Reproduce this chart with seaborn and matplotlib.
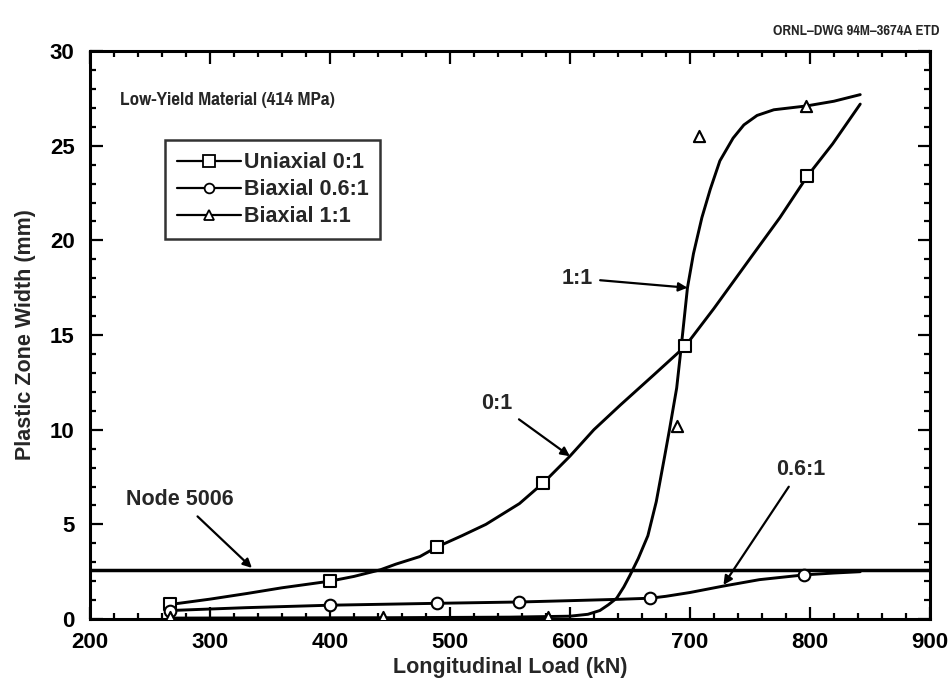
import numpy as np
import pandas as pd
import matplotlib
matplotlib.use("Agg")
import matplotlib.pyplot as plt
from matplotlib import font_manager as fm
from matplotlib.lines import Line2D
from matplotlib.ticker import MultipleLocator
import seaborn as sns

# ---- data ----
# fitted curves (kN, mm)
uni_curve_x = [267, 300, 331, 360, 400, 420, 442, 455, 475, 489, 510, 530, 558, 578, 600, 620, 642, 670, 696, 720, 752, 775, 798, 819, 842]
uni_curve_y = [0.77, 1.05, 1.35, 1.65, 2.0, 2.25, 2.6, 2.9, 3.3, 3.8, 4.4, 5.0, 6.1, 7.2, 8.6, 10.0, 11.3, 12.9, 14.4, 16.4, 19.2, 21.2, 23.4, 25.1, 27.2]
bi06_curve_x = [267, 330, 400, 489, 558, 600, 640, 667, 680, 700, 727, 758, 795, 820, 842]
bi06_curve_y = [0.45, 0.6, 0.73, 0.83, 0.9, 0.97, 1.04, 1.1, 1.2, 1.4, 1.73, 2.08, 2.33, 2.43, 2.5]
bi11_curve_x = [267, 450, 550, 600, 615, 625, 632, 639, 645, 650, 657, 665, 672, 679, 683, 689, 693, 698, 703, 710, 717, 725, 736, 745, 756, 770, 797, 820, 842]
bi11_curve_y = [0.05, 0.07, 0.1, 0.15, 0.25, 0.45, 0.75, 1.1, 1.7, 2.3, 3.2, 4.4, 6.2, 8.6, 10.0, 12.2, 14.5, 17.5, 19.3, 21.2, 22.7, 24.2, 25.4, 26.1, 26.6, 26.9, 27.1, 27.35, 27.7]

# data markers
uni_pts_x = [267, 400, 489, 578, 696, 798]
uni_pts_y = [0.77, 2.0, 3.8, 7.2, 14.4, 23.4]
bi06_pts_x = [267, 400, 489, 558, 667, 795]
bi06_pts_y = [0.45, 0.73, 0.83, 0.9, 1.1, 2.33]
bi11_pts_x = [267, 444, 582, 689, 708, 797]
bi11_pts_y = [0.1, 0.1, 0.12, 10.2, 25.5, 27.1]

node_x = [200, 900]
node_y = [2.6, 2.6]

series_labels = ["Uniaxial 0:1", "Biaxial 0.6:1", "Biaxial 1:1"]

# ---- style ----
sns.set_style("ticks")
plt.rcParams["font.family"] = ["Liberation Sans", "DejaVu Sans"]
plt.rcParams["font.weight"] = "bold"
FS = 15.5

# look for an installed condensed bold face for the narrow captions
narrow_file = None
for pref in ("LiberationSansNarrow-Bold", "Narrow-Bold", "Condensed-Bold", "CondensedBold", "Condensed"):
    for f in fm.fontManager.ttflist:
        name = f.fname.split("/")[-1]
        if pref in name and "Italic" not in name and "Oblique" not in name:
            narrow_file = f.fname
            break
    if narrow_file:
        break
if narrow_file:
    title_fp = fm.FontProperties(fname=narrow_file, size=15)
    ornl_fp = fm.FontProperties(fname=narrow_file, size=11.5)
else:
    title_fp = fm.FontProperties(family="Liberation Sans", weight="bold", size=12.3)
    ornl_fp = fm.FontProperties(family="Liberation Sans", weight="bold", size=9.3)

bold_fp = fm.FontProperties(family="Liberation Sans", weight="bold", size=FS)

fig = plt.figure(figsize=(9.49, 6.81), dpi=100)
ax = fig.add_axes([0.0948, 0.091, 0.885, 0.834])

lw = 2.1
for cx, cy in [(uni_curve_x, uni_curve_y), (bi06_curve_x, bi06_curve_y), (bi11_curve_x, bi11_curve_y)]:
    sns.lineplot(x=cx, y=cy, ax=ax, color="black", linewidth=lw, sort=False, estimator=None)
sns.lineplot(x=node_x, y=node_y, ax=ax, color="black", linewidth=2.5, sort=False, estimator=None)

mk = dict(facecolor="white", edgecolor="black", linewidth=1.5, zorder=5, legend=False)
sns.scatterplot(x=uni_pts_x, y=uni_pts_y, ax=ax, marker="s", s=80, **mk)
sns.scatterplot(x=bi06_pts_x, y=bi06_pts_y, ax=ax, marker="o", s=70, **mk)
sns.scatterplot(x=bi11_pts_x, y=bi11_pts_y, ax=ax, marker="^", s=65, **mk)

ax.set_xlim(200, 900)
ax.set_ylim(0, 30)
ax.xaxis.set_major_locator(MultipleLocator(100))
ax.xaxis.set_minor_locator(MultipleLocator(20))
ax.yaxis.set_major_locator(MultipleLocator(5))
ax.yaxis.set_minor_locator(MultipleLocator(1))
ax.tick_params(which="both", direction="in", top=True, right=True, width=1.6, colors="black",
               labelsize=16)
ax.tick_params(axis="x", pad=9)
ax.tick_params(axis="y", pad=11)
ax.tick_params(which="major", length=9)
ax.tick_params(which="minor", length=4.5)
for lab in ax.get_xticklabels() + ax.get_yticklabels():
    lab.set_fontweight("bold")
for sp in ax.spines.values():
    sp.set_visible(True)
    sp.set_linewidth(2.2)
    sp.set_color("black")

ax.set_xlabel("Longitudinal Load (kN)", fontproperties=bold_fp, labelpad=3)
ax.set_ylabel("Plastic Zone Width (mm)", fontproperties=bold_fp, labelpad=10)

ax.text(225, 27.4, "Low-Yield Material (414 MPa)", fontproperties=title_fp,
        ha="left", va="center")
fig.text(0.99, 0.955, "ORNL\u2013DWG 94M\u20133674A ETD", fontproperties=ornl_fp,
         ha="right", va="center")

handles = [
    Line2D([], [], color="black", lw=1.6, marker="s", markersize=8, markerfacecolor="white", markeredgewidth=1.3),
    Line2D([], [], color="black", lw=1.6, marker="o", markersize=7, markerfacecolor="white", markeredgewidth=1.3),
    Line2D([], [], color="black", lw=1.6, marker="^", markersize=7, markerfacecolor="white", markeredgewidth=1.3),
]
leg = ax.legend(handles, series_labels, loc="upper left", bbox_to_anchor=(0.089, 0.843),
                borderaxespad=0, frameon=True, fancybox=False, handlelength=3.0,
                prop=bold_fp, labelspacing=0.28, handletextpad=0.12,
                borderpad=0.55)
leg.get_frame().set_edgecolor("black")
leg.get_frame().set_linewidth(1.8)

arr = dict(arrowstyle="-|>", color="black", lw=1.6, mutation_scale=13, shrinkA=3, shrinkB=0)
ax.annotate("1:1", xy=(698, 17.5), xytext=(606, 18.0), fontproperties=bold_fp,
            ha="center", va="center", arrowprops=arr)
ax.annotate("0:1", xy=(600, 8.6), xytext=(539, 11.4), fontproperties=bold_fp,
            ha="center", va="center", arrowprops=arr)
ax.annotate("0.6:1", xy=(728, 1.8), xytext=(792, 7.9), fontproperties=bold_fp,
            ha="center", va="center", arrowprops=arr)
ax.annotate("Node 5006", xy=(335, 2.7), xytext=(275, 6.3), fontproperties=bold_fp,
            ha="center", va="center", arrowprops=arr)

fig.savefig("out.png", dpi=100)
